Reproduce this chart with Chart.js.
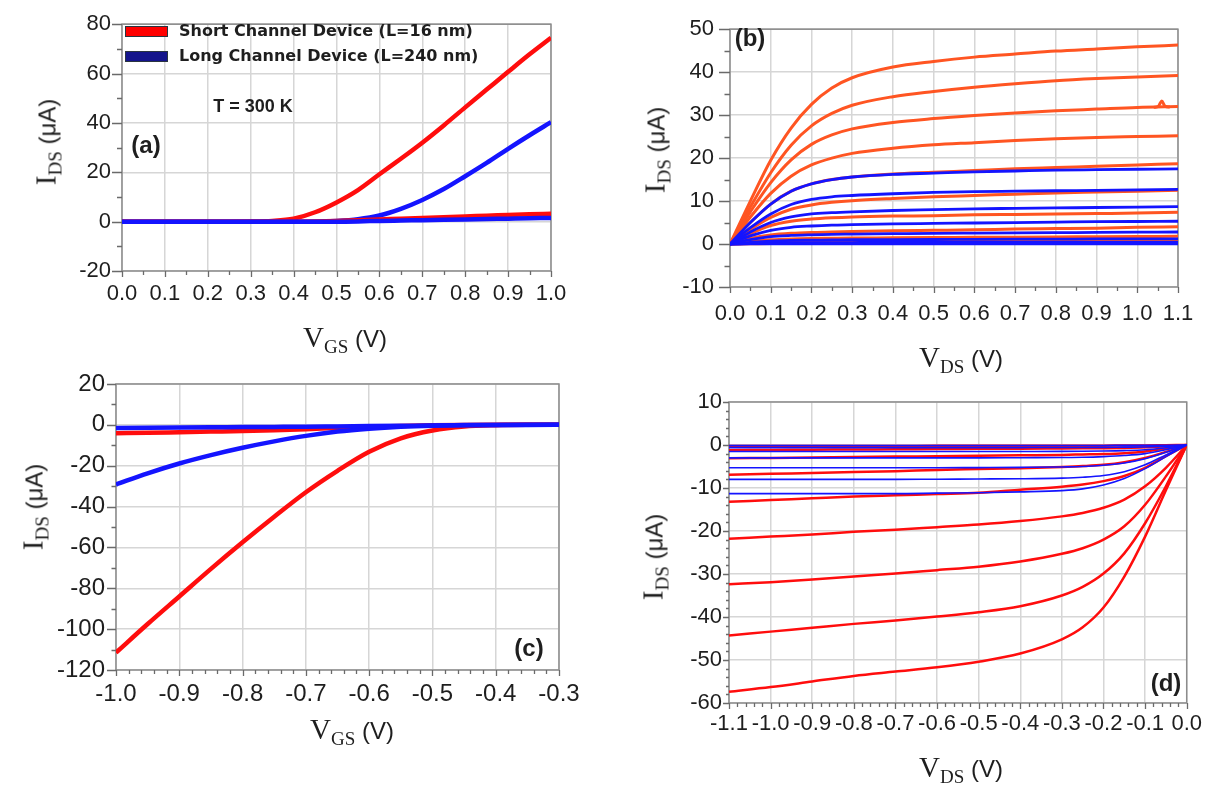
<!DOCTYPE html>
<html>
<head>
<meta charset="utf-8">
<script src="https://cdn.jsdelivr.net/npm/chart.js@4.4.1/dist/chart.umd.min.js"></script>
<style>
  body { margin: 0; background: #fff; }
  #wrap { position: relative; width: 1210px; height: 785px; overflow: hidden; background: #fff; }
  canvas.panel { position: absolute; left: 0; top: 0; }
  .txt { position: absolute; white-space: nowrap; color: #1e1e1e; transform: translate(-50%, -50%); z-index: 2; }
  .ttl .s { font-family: 'Liberation Serif', serif; font-size: 29px; }
  .ttl sub { font-family: 'Liberation Serif', serif; font-size: 19px; vertical-align: -6px; line-height: 0; }
  .ttl .u { font-family: 'Liberation Sans', sans-serif; font-size: 24px; }
  .rot { transform: translate(-50%, -50%) rotate(-90deg); }
  .tag { font-family: 'Liberation Sans', sans-serif; font-weight: bold; font-size: 24px; }
  .leg { position: absolute; z-index: 2; font-family: 'DejaVu Sans', sans-serif; font-weight: bold; font-size: 16px; color: #1e1e1e; white-space: nowrap; }
  .sw { position: absolute; width: 41px; height: 9px; border: 1.5px solid #2a3440; }
</style>
</head>
<body>
<div id="wrap">
  <canvas id="cA" class="panel" width="1210" height="785"></canvas>
  <canvas id="cB" class="panel" width="1210" height="785"></canvas>
  <canvas id="cC" class="panel" width="1210" height="785"></canvas>
  <canvas id="cD" class="panel" width="1210" height="785"></canvas>

  <!-- legend of panel (a) -->
  <div class="sw" style="left:125px; top:26px; background:#ff0000;"></div>
  <div class="leg" style="left:179px; top:21px;">Short Channel Device (L=16 nm)</div>
  <div class="sw" style="left:125px; top:51px; background:#14148c;"></div>
  <div class="leg" style="left:179px; top:46px;">Long Channel Device (L=240 nm)</div>
  <div class="txt" style="left:253px; top:106px; font-family:'Liberation Sans',sans-serif; font-weight:bold; font-size:18px;">T = 300 K</div>

  <div class="txt tag" style="left:146px; top:145px;">(a)</div>
  <div class="txt tag" style="left:750px; top:38px;">(b)</div>
  <div class="txt tag" style="left:529px; top:648px;">(c)</div>
  <div class="txt tag" style="left:1166px; top:683px;">(d)</div>

  <div class="txt ttl" style="left:345px; top:337px;"><span class="s">V</span><sub>GS</sub><span class="u"> (V)</span></div>
  <div class="txt ttl rot" style="left:46px; top:142px;"><span class="s">I</span><sub>DS</sub><span class="u"> (μA)</span></div>
  <div class="txt ttl" style="left:961px; top:357px;"><span class="s">V</span><sub>DS</sub><span class="u"> (V)</span></div>
  <div class="txt ttl rot" style="left:655px; top:150px;"><span class="s">I</span><sub>DS</sub><span class="u"> (μA)</span></div>
  <div class="txt ttl" style="left:352px; top:729px;"><span class="s">V</span><sub>GS</sub><span class="u"> (V)</span></div>
  <div class="txt ttl rot" style="left:33px; top:507px;"><span class="s">I</span><sub>DS</sub><span class="u"> (μA)</span></div>
  <div class="txt ttl" style="left:961px; top:767px;"><span class="s">V</span><sub>DS</sub><span class="u"> (V)</span></div>
  <div class="txt ttl rot" style="left:653px; top:557px;"><span class="s">I</span><sub>DS</sub><span class="u"> (μA)</span></div>
</div>

<script>
// (a) transfer curves, n-type, VDS high / low
const VGS_A = [0, 0.05, 0.1, 0.15, 0.2, 0.25, 0.3, 0.35, 0.4, 0.45, 0.5, 0.55, 0.6, 0.65, 0.7, 0.75, 0.8, 0.85, 0.9, 0.95, 1.0];
const IDS_A_SHORT = [0, 0, 0, 0, 0, 0, 0.05, 0.3, 1.2, 3.8, 7.8, 12.8, 19.2, 25.5, 32, 39, 46.3, 53.5, 60.7, 67.8, 74.5];
const IDS_A_LONG = [0, 0, 0, 0, 0, 0, 0, 0, 0, 0, 0.3, 1.0, 2.5, 5.2, 8.8, 13.2, 18.4, 23.8, 29.5, 35, 40.3];
const IDS_A_SHORT_LOW = [0, 0, 0, 0, 0, 0, 0, 0, 0, 0.1, 0.3, 0.6, 0.9, 1.2, 1.5, 1.8, 2.1, 2.4, 2.7, 3.0, 3.2];
const IDS_A_LONG_LOW = [0, 0, 0, 0, 0, 0, 0, 0, 0, 0, 0, 0.1, 0.3, 0.45, 0.6, 0.75, 0.9, 1.05, 1.2, 1.35, 1.5];
const A_X_TICKS = [0, 0.1, 0.2, 0.3, 0.4, 0.5, 0.6, 0.7, 0.8, 0.9, 1.0];
const A_Y_TICKS = [-20, 0, 20, 40, 60, 80];

// (b) output curves, n-type, one curve per VGS step
const VDS_B = [0, 0.05, 0.1, 0.15, 0.2, 0.25, 0.3, 0.4, 0.5, 0.6, 0.7, 0.8, 0.9, 1.0, 1.1];
const IDS_B_SHORT = [
  [0, 10, 19.5, 27, 32.5, 36.3, 38.7, 41.2, 42.5, 43.5, 44.2, 44.9, 45.4, 45.9, 46.3],
  [0, 8.6, 16.6, 23, 27.5, 30.4, 32.3, 34.3, 35.5, 36.5, 37.3, 38, 38.5, 38.9, 39.2],
  [0, 7.5, 14.3, 19.6, 23.2, 25.4, 26.8, 28.3, 29.2, 29.9, 30.5, 31, 31.4, 31.8, 32],
  [0, 6.3, 11.8, 15.8, 18.4, 20, 21.1, 22.3, 23.1, 23.6, 24.1, 24.5, 24.8, 25, 25.2],
  [0, 5, 9.3, 12.3, 14, 15, 15.6, 16.3, 16.7, 17.1, 17.5, 17.8, 18.1, 18.4, 18.7],
  [0, 3.4, 6.2, 8.1, 9.1, 9.7, 10.1, 10.6, 11, 11.3, 11.6, 11.9, 12.1, 12.3, 12.5],
  [0, 2.4, 4.3, 5.3, 5.8, 6.1, 6.3, 6.5, 6.6, 6.8, 6.9, 7, 7.1, 7.2, 7.4],
  [0, 1.3, 2.1, 2.5, 2.7, 2.8, 2.9, 3.1, 3.2, 3.3, 3.5, 3.6, 3.7, 3.9, 4],
  [0, 0.6, 1, 1.2, 1.3, 1.35, 1.4, 1.45, 1.5, 1.55, 1.6, 1.65, 1.7, 1.75, 1.8],
  [0, 0.25, 0.4, 0.5, 0.55, 0.55, 0.6, 0.6, 0.62, 0.64, 0.66, 0.68, 0.7, 0.72, 0.75],
  [0, 0.05, 0.1, 0.12, 0.14, 0.15, 0.15, 0.16, 0.17, 0.18, 0.19, 0.2, 0.2, 0.2, 0.2]
];
const IDS_B_LONG = [
  [0, 5, 9.3, 12.3, 14, 15, 15.6, 16.2, 16.5, 16.8, 17, 17.2, 17.3, 17.4, 17.5],
  [0, 3.8, 7, 9.2, 10.4, 11, 11.3, 11.7, 12, 12.2, 12.3, 12.4, 12.5, 12.6, 12.7],
  [0, 2.8, 5, 6.3, 7, 7.3, 7.5, 7.8, 8, 8.2, 8.3, 8.4, 8.5, 8.6, 8.7],
  [0, 1.9, 3.2, 3.9, 4.2, 4.4, 4.5, 4.7, 4.8, 4.9, 5, 5.1, 5.2, 5.25, 5.3],
  [0, 1, 1.7, 2, 2.15, 2.25, 2.3, 2.4, 2.5, 2.55, 2.6, 2.65, 2.7, 2.75, 2.8],
  [0, 0.4, 0.7, 0.85, 0.9, 0.95, 1, 1.03, 1.06, 1.09, 1.12, 1.15, 1.18, 1.2, 1.22],
  [0, 0.15, 0.25, 0.3, 0.32, 0.34, 0.35, 0.36, 0.37, 0.38, 0.39, 0.4, 0.4, 0.4, 0.4],
  [0, 0.02, 0.04, 0.05, 0.05, 0.05, 0.05, 0.05, 0.05, 0.05, 0.05, 0.05, 0.05, 0.05, 0.05]
];
// glitch on the third short-channel curve near 1.06 V
const VDS_B_GLITCH = [1.04, 1.052, 1.06, 1.068, 1.08];
const IDS_B_GLITCH = [31.8, 32.1, 33.3, 32.1, 31.9];
const B_X_TICKS = [0, 0.1, 0.2, 0.3, 0.4, 0.5, 0.6, 0.7, 0.8, 0.9, 1.0, 1.1];
const B_Y_TICKS = [-10, 0, 10, 20, 30, 40, 50];

// (c) transfer curves, p-type
const VGS_C = [-1.0, -0.95, -0.9, -0.85, -0.8, -0.75, -0.7, -0.65, -0.6, -0.55, -0.5, -0.45, -0.4, -0.35, -0.3];
const IDS_C_SHORT = [-111.5, -97.5, -84, -70.5, -57.5, -45, -33, -22.5, -13.2, -6.6, -2.8, -0.8, -0.15, 0, 0];
const IDS_C_LONG = [-29.2, -23.7, -18.9, -14.8, -11.2, -8.1, -5.4, -3.3, -1.9, -0.95, -0.4, -0.12, -0.03, 0, 0];
const IDS_C_SHORT_LOW = [-4.1, -3.9, -3.6, -3.3, -3, -2.6, -2.1, -1.5, -0.9, -0.5, -0.2, -0.05, 0, 0, 0];
const IDS_C_LONG_LOW = [-1.5, -1.4, -1.3, -1.2, -1.1, -1, -0.9, -0.75, -0.6, -0.45, -0.3, -0.18, -0.08, -0.02, 0];
const C_X_TICKS = [-1.0, -0.9, -0.8, -0.7, -0.6, -0.5, -0.4, -0.3];
const C_Y_TICKS = [-120, -100, -80, -60, -40, -20, 0, 20];

// (d) output curves, p-type
const VDS_D = [-1.1, -1.0, -0.9, -0.8, -0.7, -0.6, -0.5, -0.4, -0.3, -0.25, -0.2, -0.15, -0.1, -0.05, 0];
const IDS_D_SHORT = [
  [-57.4, -56.3, -55, -53.7, -52.7, -51.7, -50.4, -48.5, -45.2, -42.4, -37.8, -30.6, -21.3, -10.5, 0],
  [-44.3, -43.4, -42.5, -41.6, -40.8, -39.9, -38.9, -37.5, -35, -33, -29.9, -25.2, -18.2, -9.6, 0],
  [-32.4, -31.9, -31.3, -30.6, -29.9, -29.1, -28.3, -27.1, -25.3, -24, -22, -18.9, -13.9, -7.3, 0],
  [-21.8, -21.3, -20.8, -20.2, -19.7, -19.1, -18.5, -17.7, -16.6, -15.8, -14.6, -12.7, -9.6, -5.3, 0],
  [-13.2, -12.8, -12.4, -12, -11.7, -11.4, -11.1, -10.4, -9.7, -9.2, -8.4, -7.2, -5.3, -2.6, 0],
  [-6.9, -6.7, -6.5, -6.3, -6.1, -5.8, -5.6, -5.4, -5.1, -4.9, -4.6, -4.0, -3.0, -1.6, 0],
  [-3.1, -3, -2.9, -2.8, -2.7, -2.6, -2.5, -2.4, -2.3, -2.2, -2.1, -1.9, -1.5, -0.8, 0],
  [-1.2, -1.15, -1.1, -1.05, -1, -0.95, -0.9, -0.85, -0.8, -0.78, -0.74, -0.68, -0.55, -0.3, 0],
  [-0.25, -0.24, -0.23, -0.22, -0.21, -0.2, -0.19, -0.18, -0.17, -0.16, -0.15, -0.13, -0.1, -0.05, 0]
];
const IDS_D_LONG = [
  [-11.3, -11.3, -11.3, -11.3, -11.3, -11.2, -11.1, -10.9, -10.6, -10.2, -9.3, -7.8, -5.5, -2.7, 0],
  [-8, -8, -8, -8, -8, -7.95, -7.9, -7.85, -7.7, -7.5, -7.1, -6.2, -4.6, -2.3, 0],
  [-5.3, -5.3, -5.3, -5.3, -5.3, -5.3, -5.25, -5.2, -5.1, -5, -4.7, -4.2, -3.2, -1.7, 0],
  [-3, -3, -3, -3, -3, -3, -3, -2.95, -2.9, -2.85, -2.7, -2.45, -2, -1.1, 0],
  [-1.5, -1.5, -1.5, -1.5, -1.5, -1.5, -1.5, -1.5, -1.48, -1.45, -1.4, -1.3, -1.1, -0.65, 0],
  [-0.6, -0.6, -0.6, -0.6, -0.6, -0.6, -0.6, -0.6, -0.58, -0.57, -0.55, -0.5, -0.45, -0.3, 0],
  [-0.1, -0.1, -0.1, -0.1, -0.1, -0.1, -0.1, -0.1, -0.1, -0.1, -0.1, -0.09, -0.08, -0.05, 0]
];
const D_X_TICKS = [-1.1, -1.0, -0.9, -0.8, -0.7, -0.6, -0.5, -0.4, -0.3, -0.2, -0.1, 0];
const D_Y_TICKS = [-60, -50, -40, -30, -20, -10, 0, 10];

const RED = '#ff0d0d';
const ORANGE = '#ff5522';
const BLUE = '#1414ff';
const W = 1210, H = 785;
const Y_W = 80, X_H = 50;

// frame around the plot area plus major/minor tick marks outside it
const axisDecor = {
  id: 'axisDecor',
  beforeDatasetsDraw(chart, args, o) {
    const { ctx, chartArea: a, scales: { x, y } } = chart;
    ctx.save();
    ctx.strokeStyle = '#8c8c8c';
    ctx.lineWidth = 1.5;
    ctx.strokeRect(a.left, a.top, a.right - a.left, a.bottom - a.top);
    ctx.strokeStyle = '#6a6a6a';
    ctx.lineWidth = 1.3;
    ctx.beginPath();
    const nx = Math.round((x.max - x.min) / o.xMinor);
    for (let i = 0; i <= nx; i++) {
      const v = x.min + i * o.xMinor;
      const major = Math.abs(v / o.xMajor - Math.round(v / o.xMajor)) < 1e-6;
      const px = Math.round(x.getPixelForValue(v)) + 0.5;
      ctx.moveTo(px, a.bottom);
      ctx.lineTo(px, a.bottom + (major ? o.xLen : o.xLen * 0.65));
    }
    const ny = Math.round((y.max - y.min) / o.yMinor);
    for (let i = 0; i <= ny; i++) {
      const v = y.min + i * o.yMinor;
      const major = Math.abs(v / o.yMajor - Math.round(v / o.yMajor)) < 1e-6;
      const py = Math.round(y.getPixelForValue(v)) + 0.5;
      ctx.moveTo(a.left, py);
      ctx.lineTo(a.left - (major ? o.yLen : o.yLen * 0.5), py);
    }
    ctx.stroke();
    ctx.restore();
  }
};

function pts(xs, ys) {
  return xs.map((x, i) => ({ x: x, y: ys[i] }));
}

function line(xs, ys, color, width) {
  return {
    data: pts(xs, ys),
    borderColor: color,
    borderWidth: width,
    pointRadius: 0,
    fill: false,
    cubicInterpolationMode: 'monotone'
  };
}

function makePanel(id, area, xTicks, yTicks, datasets, deco) {
  const fmtX = v => v.toFixed(1);
  const fmtY = v => String(v);
  return new Chart(document.getElementById(id), {
    type: 'line',
    data: { datasets: datasets },
    options: {
      responsive: false,
      animation: false,
      layout: {
        padding: { left: area.l - Y_W, top: area.t, right: W - area.r, bottom: H - area.b - X_H }
      },
      plugins: {
        legend: { display: false },
        tooltip: { enabled: false },
        axisDecor: deco
      },
      scales: {
        x: {
          type: 'linear',
          min: xTicks[0],
          max: xTicks[xTicks.length - 1],
          afterFit: s => { s.height = X_H; },
          afterBuildTicks: s => { s.ticks = xTicks.map(v => ({ value: v })); },
          grid: { color: '#d6d6d6', lineWidth: 1.5, drawTicks: false },
          border: { display: false },
          ticks: {
            autoSkip: false, maxRotation: 0, padding: deco.xPad,
            color: '#1e1e1e', font: { family: 'Liberation Sans', size: deco.font },
            callback: fmtX
          }
        },
        y: {
          type: 'linear',
          min: yTicks[0],
          max: yTicks[yTicks.length - 1],
          afterFit: s => { s.width = Y_W; },
          afterBuildTicks: s => { s.ticks = yTicks.map(v => ({ value: v })); },
          grid: { color: '#d6d6d6', lineWidth: 1.5, drawTicks: false },
          border: { display: false },
          ticks: {
            autoSkip: false, padding: deco.yPad,
            color: '#1e1e1e', font: { family: 'Liberation Sans', size: deco.font },
            callback: fmtY
          }
        }
      }
    },
    plugins: [axisDecor]
  });
}

// (a) — first dataset is drawn on top
makePanel('cA', { l: 122, t: 13, r: 551, b: 271 }, A_X_TICKS, A_Y_TICKS, [
  line(VGS_A, IDS_A_LONG_LOW, BLUE, 4.5),
  line(VGS_A, IDS_A_SHORT_LOW, RED, 4.5),
  line(VGS_A, IDS_A_LONG, BLUE, 4.5),
  line(VGS_A, IDS_A_SHORT, RED, 4.5)
], { xMinor: 0.05, xMajor: 0.1, yMinor: 10, yMajor: 20, xLen: 6, yLen: 10, xPad: 10, yPad: 11, font: 22 });

// (b)
makePanel('cB', { l: 730, t: 15, r: 1178, b: 287 }, B_X_TICKS, B_Y_TICKS, [
  ...IDS_B_LONG.map(c => line(VDS_B, c, BLUE, 2.8)),
  ...IDS_B_SHORT.map(c => line(VDS_B, c, ORANGE, 3)),
  line(VDS_B_GLITCH, IDS_B_GLITCH, ORANGE, 3)
], { xMinor: 0.05, xMajor: 0.1, yMinor: 5, yMajor: 10, xLen: 6, yLen: 11, xPad: 14, yPad: 16, font: 22 });

// (c)
makePanel('cC', { l: 116, t: 384, r: 559, b: 670 }, C_X_TICKS, C_Y_TICKS, [
  line(VGS_C, IDS_C_LONG_LOW, BLUE, 4.5),
  line(VGS_C, IDS_C_LONG, BLUE, 4.5),
  line(VGS_C, IDS_C_SHORT_LOW, RED, 4.5),
  line(VGS_C, IDS_C_SHORT, RED, 4.5)
], { xMinor: 0.02, xMajor: 0.1, yMinor: 10, yMajor: 20, xLen: 6, yLen: 9, xPad: 10, yPad: 11, font: 24 });

// (d)
makePanel('cD', { l: 729, t: 402, r: 1187, b: 703 }, D_X_TICKS, D_Y_TICKS, [
  ...IDS_D_LONG.map(c => line(VDS_D, c, BLUE, 1.6)),
  ...IDS_D_SHORT.map(c => line(VDS_D, c, RED, 2.5))
], { xMinor: 0.02, xMajor: 0.1, yMinor: 2, yMajor: 10, xLen: 6, yLen: 6, xPad: 8, yPad: 7, font: 22 });
</script>
</body>
</html>
